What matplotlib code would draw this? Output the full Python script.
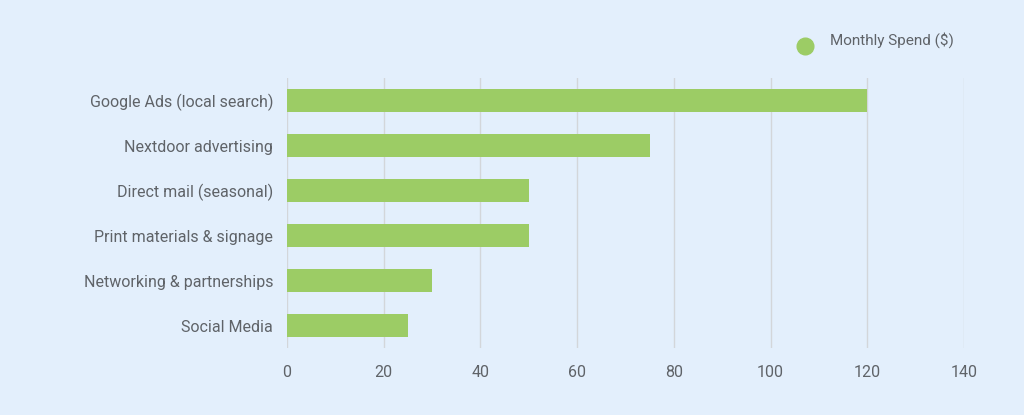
import matplotlib.pyplot as plt

plt.rcParams['font.family'] = ['Roboto', 'DejaVu Sans']

channels = ["Google Ads (local search)", "Nextdoor advertising", "Direct mail (seasonal)",
            "Print materials & signage", "Networking & partnerships", "Social Media"]
spend = [120, 75, 50, 50, 30, 25]
xticks = [0, 20, 40, 60, 80, 100, 120, 140]

bg = "#e3effc"
green = "#9ccc65"
grey = "#5f6368"

fig = plt.figure(figsize=(10.24, 4.15), dpi=100, facecolor=bg)
ax = fig.add_axes([0.2803, 0.1614, 0.6611, 0.6506], facecolor=bg)

ypos = list(range(len(channels)))
ax.barh(ypos, spend, height=0.5, color=green, zorder=3, label="Monthly Spend ($)")
ax.set_ylim(len(channels) - 0.5, -0.5)
ax.set_xlim(0, 140)
ax.set_yticks(ypos)
ax.set_yticklabels(channels, fontsize=11.5, color=grey)
ax.set_xticks(xticks)
ax.set_xticklabels([str(t) for t in xticks], fontsize=11.5, color=grey)
ax.tick_params(length=0, pad=10)
ax.tick_params(axis='x', pad=12)
ax.grid(axis='x', color="#d3d6da", linewidth=1, zorder=0)
for s in ax.spines.values():
    s.set_visible(False)

leg = fig.legend(loc="upper right", bbox_to_anchor=(0.945, 0.955), frameon=False,
                 fontsize=11, handlelength=1.0, handleheight=1.0, handletextpad=0.6,
                 labelcolor=grey)
leg.legend_handles[0].set_visible(False)
fig.add_artist(plt.Circle((805 / 1024, 1 - 46 / 415), 0.0, color=green))
fig.lines.append(plt.Line2D([805 / 1024], [1 - 46 / 415], marker='o', markersize=12,
                            color=green, transform=fig.transFigure))

fig.savefig("out.png", facecolor=bg)
